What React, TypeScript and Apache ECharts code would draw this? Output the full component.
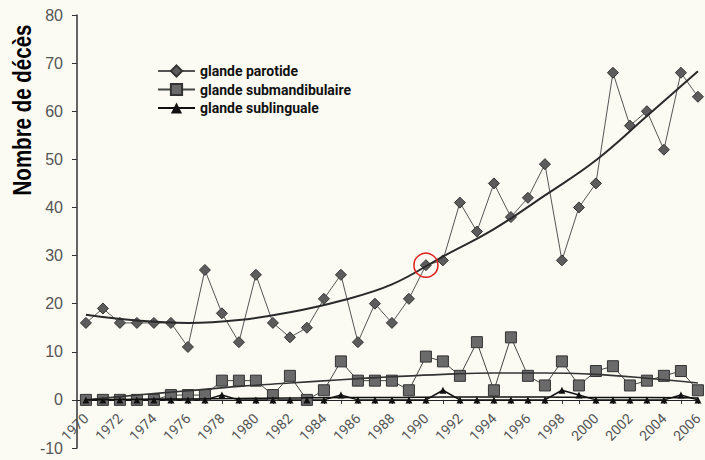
import React, { useEffect, useRef } from "react";
import * as echarts from "echarts";

const years = Array.from({ length: 37 }, (_, i) => 1970 + i);
const labelYears = years.filter((y) => (y - 1970) % 2 === 0);

const parotide = [16, 19, 16, 16, 16, 16, 11, 27, 18, 12, 26, 16, 13, 15, 21, 26, 12, 20, 16, 21, 28, 29, 41, 35, 45, 38, 42, 49, 29, 40, 45, 68, 57, 60, 52, 68, 63];
const submandibulaire = [0, 0, 0, 0, 0, 1, 1, 1, 4, 4, 4, 1, 5, 0, 2, 8, 4, 4, 4, 2, 9, 8, 5, 12, 2, 13, 5, 3, 8, 3, 6, 7, 3, 4, 5, 6, 2];
const sublinguale = [0, 0, 0, 0, 0, 0, 0, 0, 1, 0, 0, 0, 0, 0, 0, 1, 0, 0, 0, 0, 0, 2, 0, 0, 0, 0, 0, 0, 2, 1, 0, 0, 0, 0, 0, 1, 0];

const trendYears = [1970, 1973, 1976, 1979, 1982, 1985, 1988, 1991, 1994, 1997, 2000, 2003, 2006];
const parotideTrend = [17.7, 16.5, 16.0, 16.6, 18.2, 20.6, 24.0, 29.8, 35.5, 42.5, 49.8, 59.0, 68.3];
const submandTrend = [0.0, 1.0, 1.9, 2.8, 3.5, 4.2, 4.8, 5.3, 5.6, 5.6, 5.3, 4.5, 3.5];
const sublingTrend = [0.0, 0.1, 0.2, 0.3, 0.4, 0.5, 0.5, 0.6, 0.6, 0.6, 0.5, 0.5, 0.4];

const pair = (xs: number[], vs: number[]) => xs.map((x, i) => [x, vs[i]]);

const Y_MIN = -10;
const Y_MAX = 80;
const GRID_TOP = 15;
const GRID_BOTTOM = 12;
const HEIGHT = 460;

export default function App() {
  const ref = useRef<HTMLDivElement>(null);
  useEffect(() => {
    if (!ref.current) return;
    const chart = echarts.init(ref.current, null, { renderer: "svg" });
    const plotH = HEIGHT - GRID_TOP - GRID_BOTTOM;
    const zeroOffset = -(plotH * (0 - Y_MIN)) / (Y_MAX - Y_MIN);
    chart.setOption({
      animation: false,
      backgroundColor: "#fbfbf4",
      grid: { left: 77, right: 0, top: GRID_TOP, bottom: GRID_BOTTOM },
      legend: {
        data: ["glande parotide", "glande submandibulaire", "glande sublinguale"],
        orient: "vertical",
        left: 152,
        top: 59,
        itemWidth: 37,
        itemHeight: 14,
        itemGap: 4.5,
        textStyle: { fontFamily: "Roboto, 'Liberation Sans', sans-serif", fontWeight: "bold", fontSize: 14, color: "#111" },
      },
      xAxis: {
        type: "value",
        min: 1969.476,
        max: 2006.05,
        offset: zeroOffset,
        splitLine: { show: false },
        axisLine: { show: true, onZero: false, lineStyle: { color: "#222", width: 1.2 } },
        axisTick: { show: true, customValues: years, length: 4, lineStyle: { color: "#333" } },
        axisLabel: {
          customValues: labelYears,
          rotate: 45,
          margin: 16,
          fontFamily: "Roboto, 'Liberation Sans', sans-serif",
          fontSize: 14,
          color: "#555",
          formatter: (v: number) => String(Math.round(v)),
        },
      },
      yAxis: {
        type: "value",
        min: Y_MIN,
        max: Y_MAX,
        interval: 10,
        splitLine: { show: false },
        axisLine: { show: true, lineStyle: { color: "#333", width: 1.5 } },
        axisTick: { show: true, length: 5, lineStyle: { color: "#333" } },
        axisLabel: {
          margin: 14,
          fontFamily: "'Liberation Sans', Arial, sans-serif",
          fontSize: 16,
          color: "#555",
        },
      },
      graphic: [
        {
          type: "text",
          x: 22,
          y: 110,
          rotation: Math.PI / 2,
          scaleX: 0.82,
          style: {
            text: "Nombre de décès",
            font: "bold 25px 'Liberation Sans', Arial, sans-serif",
            fill: "#000",
            textAlign: "center",
            textVerticalAlign: "middle",
          },
        },
      ],
      series: [
        {
          name: "glande parotide",
          type: "line",
          data: pair(years, parotide),
          symbol: "diamond",
          symbolSize: 11,
          itemStyle: { color: "#5c5c5c", borderColor: "#333", borderWidth: 1 },
          lineStyle: { color: "#555", width: 1 },
          z: 3,
          markPoint: {
            silent: true,
            symbol: "circle",
            symbolSize: 24,
            label: { show: false },
            itemStyle: { color: "rgba(0,0,0,0)", borderColor: "#e0201c", borderWidth: 1.5 },
            data: [{ coord: [1990, 28] }],
          },
        },
        {
          name: "glande submandibulaire",
          type: "line",
          data: pair(years, submandibulaire),
          symbol: "rect",
          symbolSize: 11,
          itemStyle: { color: "#6a6a6a", borderColor: "#333", borderWidth: 1 },
          lineStyle: { color: "#444", width: 1 },
          z: 3,
        },
        {
          name: "glande sublinguale",
          type: "line",
          data: pair(years, sublinguale),
          symbol: "triangle",
          symbolSize: 7,
          itemStyle: { color: "#111" },
          lineStyle: { color: "#111", width: 1.5 },
          z: 3,
        },
        {
          name: "tendance parotide",
          type: "line",
          data: pair(trendYears, parotideTrend),
          smooth: 0.4,
          symbol: "none",
          lineStyle: { color: "#2a2a2a", width: 2 },
          z: 4,
        },
        {
          name: "tendance submandibulaire",
          type: "line",
          data: pair(trendYears, submandTrend),
          smooth: 0.4,
          symbol: "none",
          lineStyle: { color: "#333", width: 1.6 },
          z: 4,
        },
        {
          name: "tendance sublinguale",
          type: "line",
          data: pair(trendYears, sublingTrend),
          smooth: 0.4,
          symbol: "none",
          lineStyle: { color: "#111", width: 1.6 },
          z: 4,
        },
      ],
    });
    return () => chart.dispose();
  }, []);
  return <div ref={ref} style={{ position: "absolute", left: 0, top: 0, width: 705, height: 460 }} />;
}
